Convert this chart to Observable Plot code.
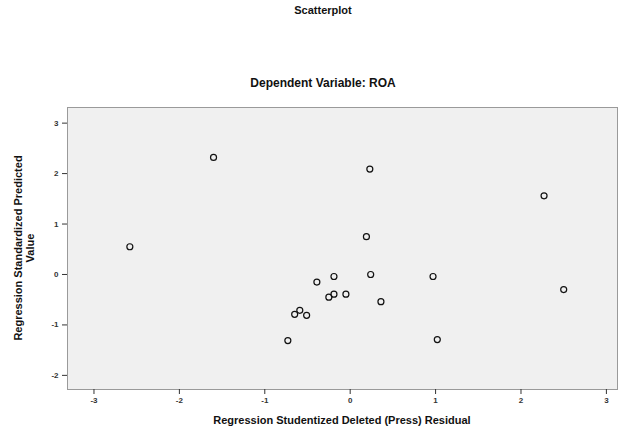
<!DOCTYPE html>
<html>
<head>
<meta charset="utf-8">
<script src="https://cdn.jsdelivr.net/npm/d3@7"></script>
<script src="https://cdn.jsdelivr.net/npm/@observablehq/plot@0.6"></script>
<style>
  html, body { margin: 0; padding: 0; background: #fff; }
  #wrap { position: relative; width: 620px; height: 436px; font-family: "Liberation Sans", Arial, sans-serif; }
  .t { position: absolute; font-weight: bold; color: #111; white-space: nowrap; }
</style>
</head>
<body>
<div id="wrap">
  <div class="t" id="title" style="left:0;width:646px;text-align:center;top:4px;font-size:11px;">Scatterplot</div>
  <div class="t" id="subtitle" style="left:0;width:646px;text-align:center;top:76px;font-size:12px;">Dependent Variable: ROA</div>
  <div class="t" id="xlab" style="left:0;width:684px;text-align:center;top:414px;font-size:11px;">Regression Studentized Deleted (Press) Residual</div>
  <div class="t" id="ylab" style="left:24px;top:248px;width:0;height:0;">
    <div style="position:absolute;transform:translate(-50%,-50%) rotate(-90deg);text-align:center;font-size:11px;line-height:12px;">Regression Standardized Predicted<br>Value</div>
  </div>
  <div id="chart" style="position:absolute;left:0;top:0;"></div>
</div>
<script>
const residual = [-1.60, 0.23, 2.27, -2.58, 0.19, -0.19, -0.39, 0.24, 0.97, 2.50, -0.19, -0.05, -0.25, 0.36, -0.59, -0.65, -0.51, -0.73, 1.02];
const predicted = [2.32, 2.09, 1.56, 0.55, 0.75, -0.04, -0.15, 0.00, -0.04, -0.30, -0.39, -0.39, -0.45, -0.54, -0.71, -0.79, -0.81, -1.31, -1.29];
const xTicks = [-3, -2, -1, 0, 1, 2, 3];
const yTicks = [-2, -1, 0, 1, 2, 3];

const data = residual.map((r, i) => ({r, p: predicted[i]}));
const fmt = d => String(d);

const chart = Plot.plot({
  width: 620,
  height: 436,
  marginTop: 107,
  marginBottom: 47,
  marginLeft: 67,
  marginRight: 3,
  style: {background: "transparent", fontFamily: "Liberation Sans, Arial, sans-serif", fontSize: "8px", color: "#333"},
  x: {domain: [-3.31, 3.13], label: null},
  y: {domain: [-2.28, 3.31], label: null},
  marks: [
    Plot.frame({fill: "#f0f0f0", stroke: "#9a9a9a"}),
    Plot.axisX({ticks: xTicks, tickFormat: fmt, tickSize: 5, tickPadding: 3, label: null, fontWeight: "bold"}),
    Plot.axisY({ticks: yTicks, tickFormat: fmt, tickSize: 5, tickPadding: 4, label: null, fontWeight: "bold"}),
    Plot.dot(data, {x: "r", y: "p", r: 3, stroke: "#111", strokeWidth: 1.2, fill: "none"})
  ]
});
document.getElementById("chart").appendChild(chart);
</script>
</body>
</html>
